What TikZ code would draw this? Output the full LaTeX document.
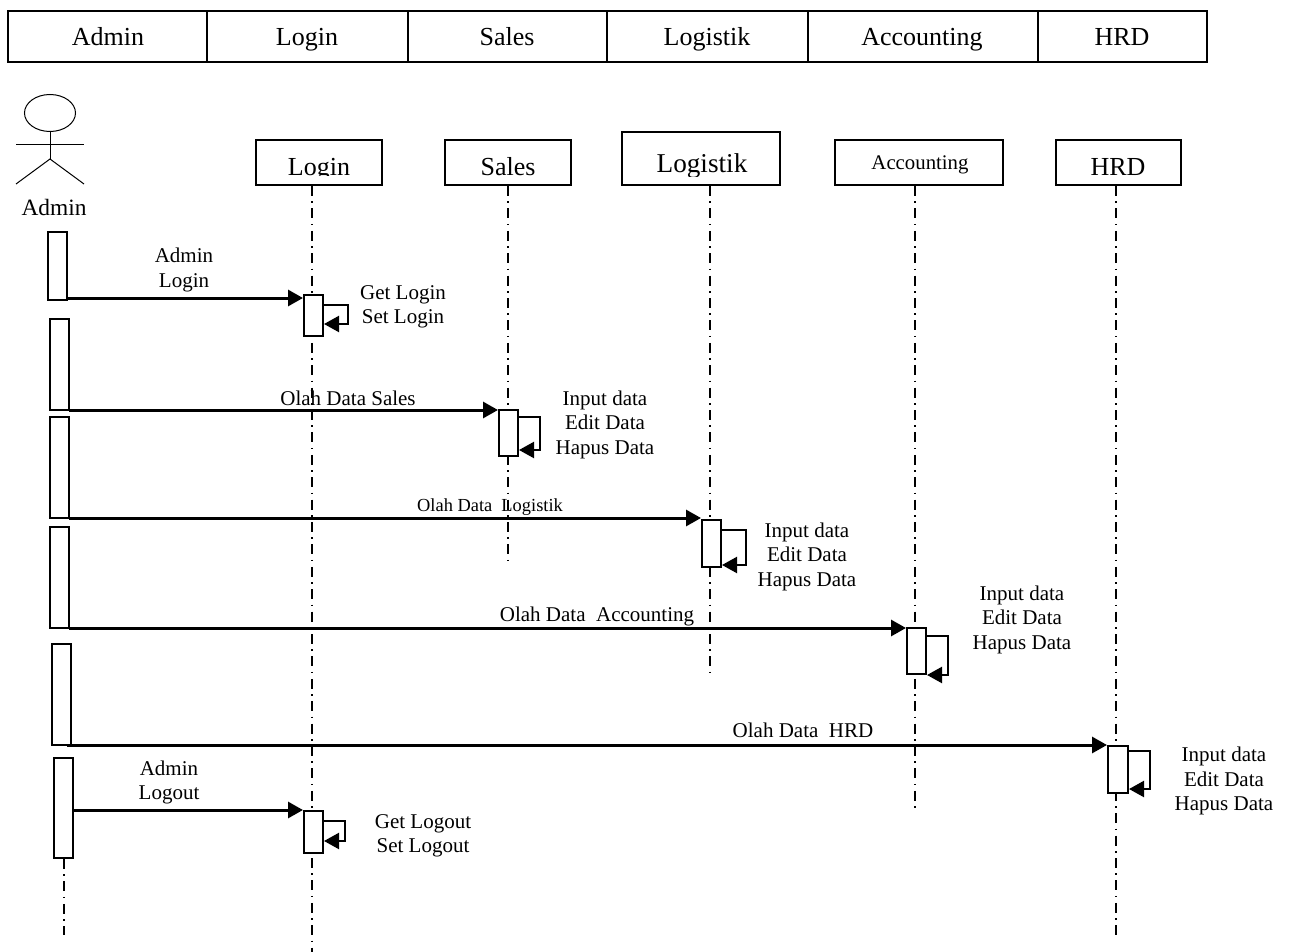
\documentclass[tikz,border=0pt]{standalone}
\usepackage{fontspec}
\setmainfont{Liberation Serif}
\usetikzlibrary{arrows.meta,shapes.geometric}
\tikzset{
  base/.style={x=0.5pt,y=-0.5pt},
  frame/.style={draw=black,line width=1pt,fill=white,inner sep=0pt},
  life/.style={black,line width=0.9pt,dash pattern=on 5pt off 2.7pt on 0.8pt off 2.7pt},
  msg/.style={black,line width=1.5pt,-{Triangle[length=7.5pt,width=8pt]}},
  selfmsg/.style={black,line width=1.1pt,-{Triangle[length=7.5pt,width=8pt]}},
  lbl/.style={inner sep=0pt,align=center,font=\fontsize{10.5}{12.25}\selectfont},
  hdr/.style={inner sep=0pt,anchor=base,font=\fontsize{13}{15}\selectfont},
  thin actor/.style={black,line width=0.5pt}
}
\newcommand{\boxnode}[5]{% name x1 y1 x2 y2
  \pgfmathsetmacro{\bw}{(#4-#2)*0.5}\pgfmathsetmacro{\bh}{(#5-#3)*0.5}
  \pgfmathsetmacro{\bx}{(#2+#4)/2}\pgfmathsetmacro{\by}{(#3+#5)/2}
  \node[frame,minimum width=\bw pt,minimum height=\bh pt] (#1) at (\bx,\by) {};}
\begin{document}
\begin{tikzpicture}[base]
\useasboundingbox (0,0) rectangle (1289,952);
% header table
\boxnode{t1}{8}{11.5}{207}{62}
\boxnode{t2}{207}{11.5}{408}{62}
\boxnode{t3}{408}{11.5}{607}{62}
\boxnode{t4}{607}{11.5}{808}{62}
\boxnode{t5}{808}{11.5}{1038}{62}
\boxnode{t6}{1038}{11.5}{1207}{62}
\node[hdr] (t1t) at (108,46) {Admin};
\node[hdr] (t2t) at (307,46) {Login};
\node[hdr] (t3t) at (507,46) {Sales};
\node[hdr] (t4t) at (707,46) {Logistik};
\node[hdr] (t5t) at (922,46) {Accounting};
\node[hdr] (t6t) at (1122,46) {HRD};
% actor
\node[draw=black,line width=0.5pt,ellipse,minimum width=25.5pt,minimum height=18.5pt,inner sep=0pt] (head) at (50,113) {};
\coordinate (hip) at (50,159);
\coordinate (armL) at (16,145);
\coordinate (armR) at (84,145);
\coordinate (legL) at (16,184);
\coordinate (legR) at (84,184);
\draw[thin actor] (head.south) -- (hip);
\draw[thin actor] (armL) -- (armR);
\draw[thin actor] (legL) -- (hip) -- (legR);
\node[inner sep=0pt,anchor=base,font=\fontsize{11.7}{14}\selectfont] (actor) at (54,216) {Admin};
% lifeline heads
\boxnode{hL}{256}{140}{382}{185}
\boxnode{hS}{445}{140}{571}{185}
\boxnode{hG}{622}{132}{780}{185}
\boxnode{hA}{835}{140}{1003}{185}
\boxnode{hH}{1056}{140}{1181}{185}
\begin{scope}
\clip (256,141) rectangle (382,176);
\node[hdr] (hLt) at (319,176) {Login};
\end{scope}
\begin{scope}
\clip (445,141) rectangle (571,176);
\node[hdr] (hSt) at (508,176) {Sales};
\end{scope}
\begin{scope}
\clip (622,133) rectangle (780,177);
\node[hdr,font=\fontsize{13.6}{15}\selectfont] (hGt) at (702,173) {Logistik};
\end{scope}
\node[inner sep=0pt,anchor=base,font=\fontsize{10.4}{12}\selectfont] (hAt) at (920,170) {Accounting};
\begin{scope}
\clip (1056,141) rectangle (1181,176);
\node[hdr] (hHt) at (1118,176) {HRD};
\end{scope}
% lifeline ends
\coordinate (eL) at (312,952);
\coordinate (eS) at (508,560);
\coordinate (eG) at (710,675);
\coordinate (eA) at (915,812);
\coordinate (eH) at (1116,940);
\coordinate (sL) at (312,186);
\coordinate (sS) at (508,186);
\coordinate (sG) at (710,186);
\coordinate (sA) at (915,186);
\coordinate (sH) at (1116,186);
\coordinate (eAd) at (64,935);
\coordinate (sAd) at (64,859);
\draw[life] (sL) -- (eL);
\draw[life] (sS) -- (eS);
\draw[life] (sG) -- (eG);
\draw[life] (sA) -- (eA);
\draw[life] (sH) -- (eH);
\draw[life] (sAd) -- (eAd);
% admin activations
\boxnode{a1}{48}{232}{67}{300}
\boxnode{a2}{50}{319}{69}{410}
\boxnode{a3}{50}{417}{69}{518}
\boxnode{a4}{50}{527}{69}{628}
\boxnode{a5}{52}{644}{71}{745}
\boxnode{a6}{54}{758}{73}{858}
% target activations
\boxnode{bL}{304}{295}{323}{336}
\boxnode{bS}{499}{410}{518}{456}
\boxnode{bG}{702}{520}{721}{567}
\boxnode{bA}{907}{628}{926}{674}
\boxnode{bH}{1108}{746}{1128}{793}
\boxnode{bO}{304}{811}{323}{853}
% messages
\coordinate (m1) at (67,298);
\coordinate (m2) at (69,410);
\coordinate (m3) at (69,518);
\coordinate (m4) at (69,628);
\coordinate (m5) at (67,745);
\coordinate (m6) at (73,810);
\draw[msg] (m1) -- (bL.west |- m1);
\draw[msg] (m2) -- (bS.west |- m2);
\draw[msg] (m3) -- (bG.west |- m3);
\draw[msg] (m4) -- (bA.west |- m4);
\draw[msg] (m5) -- (bH.west |- m5);
\draw[msg] (m6) -- (bO.west |- m6);
% self calls
\coordinate (c1a) at (323,305); \coordinate (c1b) at (348,324);
\coordinate (c2a) at (518,417); \coordinate (c2b) at (540,450);
\coordinate (c3a) at (721,530); \coordinate (c3b) at (746,565);
\coordinate (c4a) at (926,636); \coordinate (c4b) at (948,675);
\coordinate (c5a) at (1128,751); \coordinate (c5b) at (1150,789);
\coordinate (c6a) at (323,821); \coordinate (c6b) at (345,841);
\draw[selfmsg] (c1a) -| (c1b) -- (bL.east |- c1b);
\draw[selfmsg] (c2a) -| (c2b) -- (bS.east |- c2b);
\draw[selfmsg] (c3a) -| (c3b) -- (bG.east |- c3b);
\draw[selfmsg] (c4a) -| (c4b) -- (bA.east |- c4b);
\draw[selfmsg] (c5a) -| (c5b) -- (bH.east |- c5b);
\draw[selfmsg] (c6a) -| (c6b) -- (bO.east |- c6b);
% labels
\node[lbl] (l1) at (184,270) {Admin\\Login};
\node[lbl] (l2) at (403,307) {Get Login\\Set Login};
\node[lbl] (l3) at (348,398) {Olah Data Sales};
\node[lbl] (l4) at (605,424.5) {Input data\\Edit Data\\Hapus Data};
\node[inner sep=0pt,font=\fontsize{9.2}{11}\selectfont] (l5) at (490,507) {Olah Data\ \ Logistik};
\node[lbl] (l6) at (807,556.5) {Input data\\Edit Data\\Hapus Data};
\node[lbl] (l7) at (597,616.5) {Olah Data\ \ Accounting};
\node[lbl] (l8) at (1022,619.5) {Input data\\Edit Data\\Hapus Data};
\node[lbl] (l9) at (803,730) {Olah Data\ \ HRD};
\node[lbl] (l10) at (1224,781) {Input data\\Edit Data\\Hapus Data};
\node[lbl] (l11) at (169,782.5) {Admin\\Logout};
\node[lbl] (l12) at (423,836) {Get Logout\\Set Logout};
\end{tikzpicture}
\end{document}
